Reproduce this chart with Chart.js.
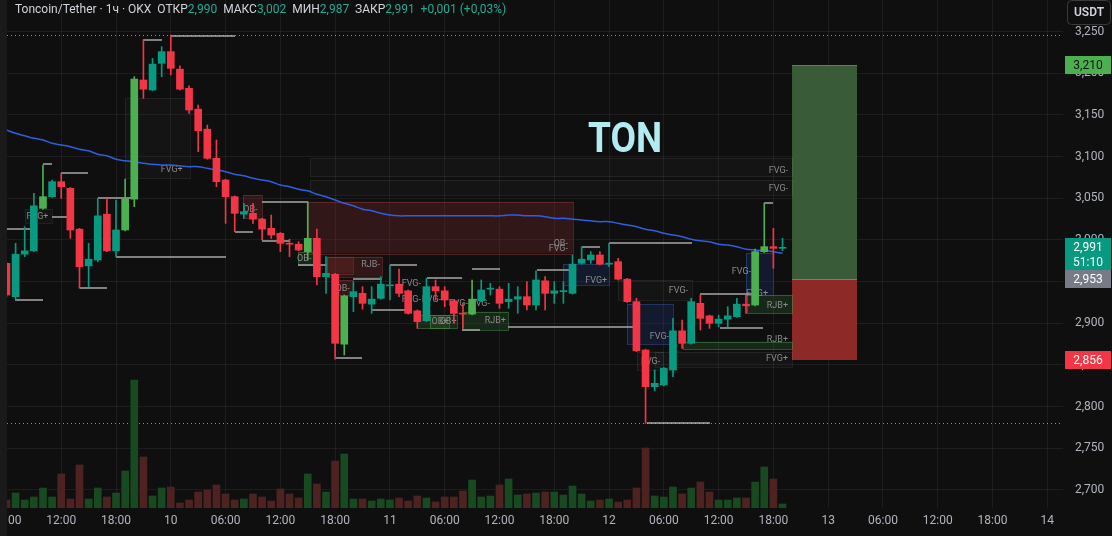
<!DOCTYPE html>
<html>
<head>
<meta charset="utf-8">
<script src="https://cdn.jsdelivr.net/npm/chart.js@4.4.1/dist/chart.umd.min.js"></script>
<style>
  html, body { margin: 0; padding: 0; background: #0f0f0f; }
  #wrap { position: relative; width: 1112px; height: 536px; overflow: hidden; }
  #c { position: absolute; left: 0; top: 0; }
  #hdr { position: absolute; left: 15px; top: 1px; font: 12px Roboto, sans-serif; line-height: 16px; color: #d1d4dc; white-space: pre; }
  #hdr .v { color: #22ab94; }
  #ton { position: absolute; left: 588px; top: 112px; font: 700 43px Roboto, sans-serif; color: #b2ebf2; transform: scaleX(0.86); transform-origin: left top; }
</style>
</head>
<body>
<div id="wrap">
  <canvas id="c" width="1112" height="536"></canvas>
  <div id="hdr"></div>
  <div id="ton">TON</div>
</div>
<script>
// hourly candles, hours counted from day 9 00:00
const hours = [6,7,8,9,10,11,12,13,14,15,16,17,18,19,20,21,22,23,24,25,26,27,28,29,30,31,32,33,34,35,
  36,37,38,39,40,41,42,43,44,45,46,47,48,49,50,51,52,53,54,55,56,57,58,59,60,61,62,63,64,65,
  66,67,68,69,70,71,72,73,74,75,76,77,78,79,80,81,82,83,84,85,86,87,88,89,90,91];

const opens = [2.972,2.932,2.983,2.987,3.038,3.052,3.070,3.062,3.013,2.969,
  2.976,3.031,2.987,3.012,3.049,3.192,3.180,3.212,3.226,3.205,
  3.182,3.157,3.133,3.098,3.072,3.052,3.031,3.032,3.025,3.014,
  3.008,2.996,2.995,2.986,3.002,2.956,2.959,2.875,2.932,2.936,
  2.923,2.930,2.945,2.947,2.939,2.915,2.903,2.944,2.939,2.927,
  2.912,2.911,2.927,2.941,2.941,2.926,2.929,2.932,2.922,2.951,
  2.936,2.938,2.936,2.972,2.976,2.982,2.971,2.974,2.953,2.926,
  2.868,2.824,2.826,2.844,2.891,2.876,2.924,2.909,2.900,2.905,
  2.908,2.923,2.922,2.986,2.992,2.990];
const highs = [2.973,2.996,3.016,3.056,3.090,3.072,3.080,3.063,3.014,2.996,
  3.050,3.050,3.048,3.073,3.196,3.240,3.218,3.232,3.246,3.209,
  3.185,3.162,3.138,3.120,3.073,3.053,3.044,3.044,3.026,3.030,
  3.009,3.001,2.998,3.046,3.013,2.980,2.960,2.934,2.950,2.944,
  2.944,2.956,2.970,2.965,2.940,2.916,2.954,2.952,2.944,2.928,
  2.924,2.952,2.952,2.948,2.944,2.948,2.944,2.950,2.963,2.956,
  2.950,2.950,2.982,2.992,2.986,2.986,2.996,2.978,2.954,2.930,
  2.869,2.844,2.847,2.906,2.904,2.930,2.934,2.910,2.910,2.920,
  2.930,2.934,2.989,3.044,3.014,3.002];
const lows = [2.932,2.929,2.980,2.986,3.037,3.051,3.050,3.002,2.942,2.944,
  2.974,2.986,2.980,3.011,3.040,3.170,3.179,3.196,3.198,3.180,
  3.152,3.106,3.097,3.064,3.020,3.010,3.026,3.020,3.000,3.002,
  2.986,2.980,2.987,2.976,2.946,2.936,2.857,2.862,2.914,2.917,
  2.912,2.929,2.928,2.932,2.911,2.894,2.902,2.928,2.920,2.900,
  2.894,2.910,2.926,2.934,2.918,2.918,2.912,2.916,2.916,2.916,
  2.924,2.924,2.935,2.971,2.972,2.970,2.968,2.952,2.925,2.866,
  2.780,2.819,2.825,2.836,2.870,2.875,2.892,2.894,2.896,2.896,
  2.907,2.912,2.921,2.985,2.966,2.987];
const closes = [2.934,2.983,2.987,3.041,3.052,3.070,3.064,3.012,2.968,2.977,
  3.029,2.987,3.012,3.049,3.193,3.181,3.211,3.226,3.206,3.181,
  3.156,3.131,3.098,3.070,3.052,3.032,3.034,3.025,3.013,3.006,
  2.996,2.995,2.988,3.002,2.956,2.960,2.876,2.933,2.938,2.924,
  2.929,2.947,2.946,2.936,2.912,2.902,2.944,2.939,2.928,2.912,
  2.911,2.929,2.940,2.942,2.924,2.929,2.932,2.922,2.952,2.936,
  2.939,2.939,2.971,2.977,2.982,2.971,2.972,2.953,2.926,2.867,
  2.824,2.828,2.846,2.891,2.876,2.926,2.906,2.900,2.905,2.909,
  2.923,2.921,2.986,2.992,2.990,2.991];
const volumes = [80,150,80,110,200,110,340,90,430,90,
  200,110,150,370,1280,510,120,200,210,50,
  80,160,180,230,140,80,90,140,110,70,
  190,140,100,340,240,160,470,540,90,90,
  70,90,80,100,70,120,100,60,110,110,
  170,280,110,120,230,290,130,140,150,160,
  160,130,220,140,70,80,90,60,80,200,
  600,120,110,210,140,200,260,160,80,80,
  100,100,260,410,290,40];
const ma = [3.132,3.128,3.125,3.122,3.120,3.116,3.114,3.112,3.109,3.107,
  3.103,3.101,3.097,3.095,3.094,3.092,3.091,3.090,3.090,3.089,
  3.088,3.088,3.086,3.084,3.082,3.079,3.077,3.074,3.072,3.070,
  3.066,3.064,3.061,3.059,3.055,3.052,3.048,3.044,3.041,3.037,
  3.035,3.032,3.030,3.029,3.029,3.029,3.029,3.029,3.029,3.029,
  3.029,3.029,3.029,3.029,3.029,3.030,3.030,3.029,3.029,3.028,
  3.026,3.026,3.025,3.024,3.023,3.022,3.022,3.020,3.018,3.016,
  3.013,3.011,3.008,3.006,3.004,3.001,2.999,2.998,2.995,2.994,
  2.992,2.989,2.988,2.987,2.986,2.984];
// candles the indicator paints light green
const limeBars = [4,13,14,33,37,51,82,83];

const priceTicks = [2.70,2.75,2.80,2.85,2.90,2.95,3.00,3.05,3.10,3.15,3.20,3.25];
const timeTicks = [6,12,18,24,30,36,42,48,54,60,66,72,78,84,90,96,102,108,114,120];

// zones: [from hour, to hour, top price, bottom price]
const greyZones = [[8.03,10.99,3.037,3.020],[18.99,26.1,3.170,3.074],[39.25,92.04,3.098,3.076],
  [39.25,92.04,3.072,3.054],[72.99,81.09,2.952,2.928],[75.06,77.91,2.866,2.844],[77.04,92.04,2.866,2.848]];
const redZones = [[31.91,33.99,3.054,3.026],[39.03,68.05,3.046,2.984],[41.11,47.13,2.980,2.956],
  [41.11,43.96,2.980,2.960],[42.1,43.96,2.952,2.934]];
const greenZones = [[37.93,39.58,2.986,2.970],[50.97,54.47,2.910,2.894],[52.39,55.35,2.910,2.894],
  [55.9,60.94,2.914,2.892],[87.11,92.04,2.934,2.912],[80.1,92.04,2.878,2.869]];
const blueZones = [[66.96,72.0,2.971,2.946],[73.97,79.01,2.923,2.875],[87.0,89.96,2.984,2.934]];
// zone tags: [right edge hour, price, text]
const zoneTags = [[10.6,3.028,"FVG+"],[25.3,3.084,"FVG+"],[33.5,3.036,"OB-"],[39.4,2.977,"OB-"],
  [46.9,2.970,"RJB-"],[43.6,2.942,"OB-"],[51.4,2.948,"FVG-"],[51.4,2.928,"FVG-"],[53.6,2.928,"FVG-"],
  [54.4,2.902,"OB+"],[55.3,2.902,"OB+"],[56.55,2.924,"FVG-"],[58.96,2.924,"FVG-"],[60.7,2.903,"RJB+"],
  [67.5,2.995,"OB-"],[67.5,2.989,"FVG-"],[71.8,2.951,"FVG+"],[80.65,2.939,"FVG-"],[78.57,2.884,"FVG-"],
  [77.6,2.854,"FVG-"],[87.55,2.962,"FVG-"],[89.41,2.936,"FVG+"],[91.6,2.921,"RJB+"],[91.6,2.880,"RJB+"],
  [91.6,2.857,"FVG+"],[91.6,3.083,"FVG-"],[91.6,3.062,"FVG-"]];
// liquidity levels: [from hour, to hour, price]
const levels = [[6.06,8.8,3.013],[6.94,10.0,2.928],[10.0,10.99,3.091],[10.99,12.63,3.028],[11.98,14.93,3.080],
  [14.06,17.01,2.942],[16.03,19.75,3.050],[18.0,30.05,2.980],[20.96,23.04,3.240],[24.02,31.03,3.245],
  [31.03,33.0,3.010],[33.99,39.03,3.046],[33.99,37.06,2.999],[37.93,41.11,2.970],[42.1,44.94,2.858],
  [43.96,47.13,2.953],[48.01,50.97,2.970],[46.04,49.65,2.916],[52.06,55.9,2.954],[56.99,60.06,2.965],
  [55.9,57.87,2.892],[60.94,74.63,2.896],[64.11,67.73,2.964],[69.04,71.01,2.992],[72.0,81.09,2.996],
  [76.16,83.06,2.780],[81.96,87.77,2.935],[84.15,88.86,2.894],[88.97,89.96,3.044]];

// long position tool
const posFrom = 92.04, posTo = 99.16;
const entryPrice = 2.953, targetPrice = 3.210, stopPrice = 2.856;
const countdown = "51:10";

const UP = "#089981", LIME = "#4caf50", DOWN = "#f23645";
const FONT = "Roboto, sans-serif";

function fmt(v) { return v.toFixed(3).replace(".", ","); }

// drop the label padding Chart.js adds around the plot
function noPad(s) {
  s.paddingLeft = 0; s.paddingRight = 0; s.paddingTop = 0; s.paddingBottom = 0;
}

const last = closes.length - 1;
const chg = closes[last] - closes[last - 1];
const sign = chg >= 0 ? "+" : "\u2212";
document.getElementById("hdr").innerHTML =
  "Toncoin/Tether \u00b7 1\u0447 \u00b7 OKX  \u041e\u0422\u041a\u0420<span class='v'>" + fmt(opens[last]) +
  "</span>  \u041c\u0410\u041a\u0421<span class='v'>" + fmt(highs[last]) +
  "</span>  \u041c\u0418\u041d<span class='v'>" + fmt(lows[last]) +
  "</span>  \u0417\u0410\u041a\u0420<span class='v'>" + fmt(closes[last]) +
  "</span>  <span class='v'>" + sign + fmt(Math.abs(chg)) + " (" + sign +
  (Math.abs(chg) / closes[last - 1] * 100).toFixed(2).replace(".", ",") + "%)</span>";

const candleColors = hours.map((h, i) => limeBars.includes(i) ? LIME : (closes[i] >= opens[i] ? UP : DOWN));
const volColors = hours.map((h, i) => closes[i] >= opens[i] ? "#184a21" : "#4f2222");

const overlays = {
  id: "overlays",
  beforeDatasetsDraw(chart) {
    const { ctx, chartArea: a } = chart;
    const xs = chart.scales.x, ys = chart.scales.y;
    const X = v => xs.getPixelForValue(v), Y = v => ys.getPixelForValue(v);
    ctx.save();
    ctx.beginPath();
    ctx.rect(a.left, a.top, a.right - a.left, a.bottom - a.top);
    ctx.clip();

    // position tool
    ctx.fillStyle = "#395b38";
    ctx.fillRect(X(posFrom), Y(targetPrice), X(posTo) - X(posFrom), Y(entryPrice) - Y(targetPrice));
    ctx.fillStyle = "#8d2a27";
    ctx.fillRect(X(posFrom), Y(entryPrice), X(posTo) - X(posFrom), Y(stopPrice) - Y(entryPrice));
    ctx.fillStyle = "rgba(160,200,160,0.35)";
    ctx.fillRect(X(posFrom), Y(targetPrice), X(posTo) - X(posFrom), 1);
    ctx.fillStyle = "rgba(200,200,200,0.45)";
    ctx.fillRect(X(posFrom), Math.round(Y(entryPrice)), X(posTo) - X(posFrom), 1);

    function zones(list, fill, stroke) {
      list.forEach(z => {
        const x1 = X(z[0]), x2 = X(z[1]), y1 = Y(z[2]), y2 = Y(z[3]);
        ctx.fillStyle = fill;
        ctx.fillRect(x1, y1, x2 - x1, y2 - y1);
        ctx.strokeStyle = stroke;
        ctx.lineWidth = 1;
        ctx.strokeRect(Math.round(x1) + 0.5, Math.round(y1) + 0.5, Math.round(x2 - x1), Math.round(y2 - y1));
      });
    }
    zones(greyZones, "rgba(255,255,255,0.025)", "rgba(255,255,255,0.07)");
    zones(redZones, "rgba(140,45,45,0.28)", "rgba(150,60,60,0.45)");
    zones(greenZones, "rgba(60,140,60,0.2)", "rgba(80,160,80,0.45)");
    zones(blueZones, "rgba(40,70,160,0.22)", "rgba(60,90,170,0.45)");

    ctx.font = "9px " + FONT;
    ctx.fillStyle = "#8a8a8a";
    ctx.textAlign = "right";
    ctx.textBaseline = "middle";
    zoneTags.forEach(t => ctx.fillText(t[2], X(t[0]), Y(t[1])));

    ctx.strokeStyle = "#a9a9a9";
    ctx.lineWidth = 1.5;
    levels.forEach(l => {
      const y = Math.round(Y(l[2]));
      ctx.beginPath();
      ctx.moveTo(X(l[0]), y);
      ctx.lineTo(X(l[1]), y);
      ctx.stroke();
    });

    // visible range high / low
    ctx.strokeStyle = "rgba(200,200,200,0.7)";
    ctx.lineWidth = 1;
    ctx.setLineDash([1, 3]);
    [Math.max(...highs), Math.min(...lows)].forEach(p => {
      const y = Math.round(Y(p)) + 0.5;
      ctx.beginPath();
      ctx.moveTo(a.left, y);
      ctx.lineTo(a.right, y);
      ctx.stroke();
    });
    ctx.restore();
  },
  afterDraw(chart) {
    const { ctx } = chart;
    const Y = v => chart.scales.y.getPixelForValue(v);
    ctx.save();
    ctx.fillStyle = "#1a1a1a";
    ctx.fillRect(0, 0, 7, 536);

    ctx.font = "12px " + FONT;
    ctx.textAlign = "center";
    ctx.textBaseline = "middle";
    function tag(price, text, bg, fg, h) {
      const y = Y(price);
      ctx.fillStyle = bg;
      ctx.fillRect(1065, Math.round(y - 9), 46, h || 18);
      ctx.fillStyle = fg;
      ctx.fillText(text, 1088, y + 0.5);
    }
    tag(targetPrice, fmt(targetPrice), "#4caf50", "#131313");
    tag(closes[last], fmt(closes[last]), UP, "#ffffff", 33);
    ctx.fillText(countdown, 1088, Y(closes[last]) + 15);
    tag(entryPrice, fmt(entryPrice), "#787b86", "#ffffff");
    tag(stopPrice, fmt(stopPrice), DOWN, "#ffffff");

    // currency button
    ctx.fillStyle = "#0f0f0f";
    ctx.strokeStyle = "#3a3a3a";
    ctx.lineWidth = 1;
    ctx.beginPath();
    ctx.roundRect(1067.5, 0.5, 43, 24, 4);
    ctx.fill();
    ctx.stroke();
    ctx.fillStyle = "#d1d4dc";
    ctx.font = "600 12px " + FONT;
    ctx.fillText("USDT", 1089, 13);
    ctx.restore();
  }
};

new Chart(document.getElementById("c"), {
  type: "bar",
  data: {
    datasets: [
      { type: "bar", data: hours.map((h, i) => ({ x: h, y: [opens[i], closes[i]] })),
        backgroundColor: candleColors, barThickness: 7, minBarLength: 1, grouped: false, order: 0 },
      { type: "bar", data: hours.map((h, i) => ({ x: h, y: [lows[i], highs[i]] })),
        backgroundColor: candleColors, barThickness: 1, grouped: false, order: 1 },
      { type: "line", data: hours.map((h, i) => ({ x: h, y: ma[i] })),
        borderColor: "#2f5ee0", borderWidth: 1.5, pointRadius: 0, tension: 0.4, order: 2 },
      { type: "bar", yAxisID: "vol", data: hours.map((h, i) => ({ x: h, y: volumes[i] })),
        backgroundColor: volColors, barThickness: 7, grouped: false, order: 3 }
    ]
  },
  options: {
    responsive: false,
    animation: false,
    layout: { autoPadding: false, padding: { left: 7, top: 0, right: 0, bottom: 0 } },
    plugins: { legend: { display: false }, tooltip: { enabled: false } },
    scales: {
      x: {
        type: "linear", min: 6.06, max: 121.72, offset: false,
        grid: { color: "rgba(255,255,255,0.06)", drawTicks: false, offset: false },
        border: { display: false },
        afterBuildTicks: s => { s.ticks = timeTicks.map(v => ({ value: v })); },
        afterFit: s => { s.height = 28; noPad(s); },
        ticks: {
          autoSkip: false, maxRotation: 0, padding: 6, color: "#b2b5be", font: { family: FONT, size: 12 },
          callback: v => v % 24 === 0 ? String(9 + v / 24) : String(v % 24).padStart(2, "0") + ":00"
        }
      },
      y: {
        type: "linear", position: "right", min: 2.6784, max: 3.288,
        grid: { color: "rgba(255,255,255,0.06)", drawTicks: false },
        border: { display: false },
        afterBuildTicks: s => { s.ticks = priceTicks.map(v => ({ value: v })); },
        afterFit: s => { s.width = 49; noPad(s); },
        ticks: { padding: 12, color: "#b2b5be", font: { family: FONT, size: 12 }, callback: v => fmt(v) }
      },
      vol: { display: false, min: 0, max: Math.max(...volumes) / 0.252, afterFit: noPad }
    }
  },
  plugins: [overlays]
});
</script>
</body>
</html>
